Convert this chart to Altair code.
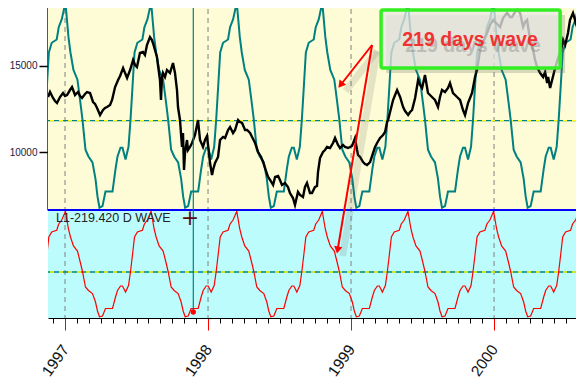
import altair as alt
import pandas as pd

# ---------------- data ----------------
stock_year = [
    1996.881, 1996.895, 1996.916, 1996.930, 1996.944, 1996.965, 1996.986, 1997.000, 1997.014, 1997.035,
    1997.049, 1997.070, 1997.091, 1997.105, 1997.119, 1997.140, 1997.154, 1997.175, 1997.196, 1997.210,
    1997.224, 1997.245, 1997.266, 1997.280, 1997.294, 1997.315, 1997.329, 1997.350, 1997.371, 1997.385,
    1997.406, 1997.420, 1997.434, 1997.455, 1997.476, 1997.490, 1997.503, 1997.524, 1997.545, 1997.559,
    1997.573, 1997.594, 1997.608, 1997.615, 1997.629, 1997.643, 1997.650, 1997.664, 1997.671, 1997.678,
    1997.685, 1997.699, 1997.713, 1997.734, 1997.755, 1997.769, 1997.783, 1997.790, 1997.804, 1997.818,
    1997.825, 1997.832, 1997.839, 1997.853, 1997.860, 1997.874, 1997.888, 1997.909, 1997.923, 1997.930,
    1997.944, 1997.965, 1997.979, 1997.993, 1998.000, 1998.014, 1998.028, 1998.035, 1998.049, 1998.070,
    1998.084, 1998.105, 1998.119, 1998.140, 1998.154, 1998.175, 1998.189, 1998.210, 1998.224, 1998.238,
    1998.259, 1998.273, 1998.294, 1998.308, 1998.329, 1998.350, 1998.371, 1998.385, 1998.399, 1998.420,
    1998.434, 1998.455, 1998.469, 1998.490, 1998.503, 1998.517, 1998.538, 1998.559, 1998.573, 1998.594,
    1998.608, 1998.629, 1998.643, 1998.664, 1998.678, 1998.692, 1998.713, 1998.727, 1998.748, 1998.762,
    1998.769, 1998.783, 1998.804, 1998.818, 1998.832, 1998.853, 1998.874, 1998.888, 1998.909, 1998.923,
    1998.944, 1998.958, 1998.979, 1998.993, 1999.007, 1999.028, 1999.042, 1999.049, 1999.063, 1999.084,
    1999.098, 1999.112, 1999.133, 1999.154, 1999.168, 1999.182, 1999.203, 1999.224, 1999.238, 1999.252,
    1999.259, 1999.273, 1999.294, 1999.308, 1999.322, 1999.343, 1999.364, 1999.378, 1999.399, 1999.413,
    1999.427, 1999.448, 1999.469, 1999.483, 1999.497, 1999.517, 1999.538, 1999.552, 1999.566, 1999.587,
    1999.608, 1999.622, 1999.636, 1999.657, 1999.678, 1999.692, 1999.713, 1999.727, 1999.741, 1999.762,
    1999.783, 1999.797, 1999.818, 1999.832, 1999.846, 1999.867, 1999.881, 1999.902, 1999.923, 1999.951,
    1999.972, 1999.993, 2000.021, 2000.042, 2000.063, 2000.091, 2000.112, 2000.126, 2000.147, 2000.161,
    2000.182, 2000.203, 2000.217, 2000.231, 2000.252, 2000.273, 2000.287, 2000.301, 2000.322, 2000.343,
    2000.357, 2000.371, 2000.378, 2000.392, 2000.406, 2000.427, 2000.448, 2000.469, 2000.483, 2000.497,
    2000.517, 2000.531, 2000.552, 2000.566, 2000.580, 2000.601, 2000.615, 2000.629,
]
stock_value = [
    13197, 13488, 13139, 12965, 12849, 13197, 13430, 13256, 13314, 13604,
    13779, 13314, 13488, 13256, 13139, 13372, 13488, 13430, 12907, 12791,
    12558, 12151, 12442, 12558, 12616, 12732, 13023, 13779, 14186, 14418,
    14884, 14593, 14302, 14767, 15349, 15058, 14942, 15756, 15814, 15639,
    16221, 16686, 16511, 16337, 15930, 15523, 15058, 14186, 13023, 14302,
    14593, 14360, 14767, 14593, 15174, 14593, 13604, 12616, 11860, 10290,
    11104, 8953, 9942, 10697, 10116, 10290, 10523, 10988, 11570, 11860,
    10697, 10290, 10697, 10930, 10407, 9360, 8662, 8953, 9360, 9709,
    10697, 10872, 10814, 11279, 11453, 11104, 11279, 11860, 11744, 11686,
    11279, 11279, 11104, 10872, 10523, 10000, 9709, 9418, 9069, 8546,
    8372, 8081, 8546, 8604, 8372, 8081, 8197, 7965, 7616, 7325,
    6918, 7674, 7500, 7383, 7965, 8197, 7616, 7616, 7965, 8023,
    8837, 9651, 10000, 10116, 10290, 10232, 10523, 10814, 10407, 10232,
    10407, 10290, 10232, 10290, 10349, 10814, 10116, 9825, 9709, 9418,
    9302, 9244, 9418, 9942, 10290, 10523, 10814, 10988, 11163, 11744,
    11860, 12325, 13023, 13314, 13604, 13197, 12616, 12384, 12151, 12325,
    12442, 13139, 14186, 13895, 13721, 14477, 13430, 13314, 13197, 13023,
    12616, 13197, 13604, 13488, 13721, 14011, 13430, 13314, 13197, 13023,
    12442, 12151, 12849, 13139, 13430, 14360, 14767, 15930, 16395, 16918,
    17384, 17674, 17442, 17267, 17790, 18081, 17849, 17849, 18139, 18256,
    18081, 17267, 17558, 17674, 16511, 15930, 15349, 14942, 14593, 14360,
    14651, 14011, 14360, 13721, 14186, 14884, 15465, 15930, 16511, 16221,
    16918, 17674, 18081, 17674, 17267, 17674, 17093, 17384,
]

# 219-day wave (same cycle drawn in both panels)
wave_year = [
    1996.859, 1996.873, 1996.887, 1996.907, 1996.942, 1996.956, 1996.977,
    1997.003, 1997.024, 1997.038, 1997.059, 1997.087, 1997.108, 1997.122, 1997.143, 1997.164, 1997.192,
    1997.213, 1997.227, 1997.241, 1997.262, 1997.283, 1997.332, 1997.353, 1997.367, 1997.388, 1997.402,
    1997.423, 1997.444, 1997.458, 1997.472, 1997.486, 1997.506, 1997.541, 1997.555, 1997.576,
    1997.602, 1997.623, 1997.637, 1997.658, 1997.686, 1997.707, 1997.721, 1997.742, 1997.763, 1997.791,
    1997.812, 1997.826, 1997.840, 1997.861, 1997.882, 1997.931, 1997.952, 1997.966, 1997.987, 1998.001,
    1998.022, 1998.043, 1998.057, 1998.071, 1998.085, 1998.105, 1998.140, 1998.154, 1998.175,
    1998.201, 1998.222, 1998.236, 1998.257, 1998.285, 1998.306, 1998.320, 1998.341, 1998.362, 1998.390,
    1998.411, 1998.425, 1998.439, 1998.460, 1998.481, 1998.530, 1998.551, 1998.565, 1998.586, 1998.600,
    1998.621, 1998.642, 1998.656, 1998.670, 1998.684, 1998.704, 1998.739, 1998.753, 1998.774,
    1998.799, 1998.820, 1998.834, 1998.855, 1998.883, 1998.904, 1998.918, 1998.939, 1998.960, 1998.988,
    1999.009, 1999.023, 1999.037, 1999.058, 1999.079, 1999.128, 1999.149, 1999.163, 1999.184, 1999.198,
    1999.219, 1999.240, 1999.254, 1999.268, 1999.282, 1999.302, 1999.337, 1999.351, 1999.372,
    1999.398, 1999.419, 1999.433, 1999.454, 1999.482, 1999.503, 1999.517, 1999.538, 1999.559, 1999.587,
    1999.608, 1999.622, 1999.636, 1999.657, 1999.678, 1999.727, 1999.748, 1999.762, 1999.783, 1999.797,
    1999.818, 1999.839, 1999.853, 1999.867, 1999.881, 1999.901, 1999.936, 1999.950, 1999.971,
    1999.997, 2000.018, 2000.032, 2000.053, 2000.081, 2000.102, 2000.116, 2000.137, 2000.158, 2000.186,
    2000.207, 2000.221, 2000.235, 2000.256, 2000.277, 2000.326, 2000.347, 2000.361, 2000.382, 2000.396,
    2000.417, 2000.438, 2000.452, 2000.466, 2000.480, 2000.500, 2000.535, 2000.549, 2000.570,
    2000.595, 2000.616, 2000.630, 2000.651,
]
wave_value = [
    0.5, 17.5, 35, 40, 41.7, 48, 52,
    60.7, 43, 35, 26, 21, 9, 0.5, -15, -18.5, -21.5,
    -30, -39, -44.8, -44, -36.5, -36.5, -25, -18.5, -14, -14,
    -20, -13.5, 0.5, 17.5, 35, 40, 41.7, 48, 52,
    60.7, 43, 35, 26, 21, 9, 0.5, -15, -18.5, -21.5,
    -30, -39, -44.8, -44, -36.5, -36.5, -25, -18.5, -14, -14,
    -20, -13.5, 0.5, 17.5, 35, 40, 41.7, 48, 52,
    60.7, 43, 35, 26, 21, 9, 0.5, -15, -18.5, -21.5,
    -30, -39, -44.8, -44, -36.5, -36.5, -25, -18.5, -14, -14,
    -20, -13.5, 0.5, 17.5, 35, 40, 41.7, 48, 52,
    60.7, 43, 35, 26, 21, 9, 0.5, -15, -18.5, -21.5,
    -30, -39, -44.8, -44, -36.5, -36.5, -25, -18.5, -14, -14,
    -20, -13.5, 0.5, 17.5, 35, 40, 41.7, 48, 52,
    60.7, 43, 35, 26, 21, 9, 0.5, -15, -18.5, -21.5,
    -30, -39, -44.8, -44, -36.5, -36.5, -25, -18.5, -14, -14,
    -20, -13.5, 0.5, 17.5, 35, 40, 41.7, 48, 52,
    60.7, 43, 35, 26, 21, 9, 0.5, -15, -18.5, -21.5,
    -30, -39, -44.8, -44, -36.5, -36.5, -25, -18.5, -14, -14,
    -20, -13.5, 0.5, 17.5, 35, 40, 41.7, 48, 52,
    60.7, 43, 35, 26,
]

grid_years = [1997, 1998, 1999, 2000]
y_tick_values = [10000, 15000]
annotation_text = "219 days wave"
wave_label = "L1-219.420 D WAVE"
cursor_year = 1997.897

# annotation geometry in data units (year, index value)
box = {"x": [1999.210], "x2": [2000.462], "y": [18256], "y2": [14884]}
arrow_start = (1999.147, 16221)
arrow_ends = [(1998.927, 13895), (1998.906, 4302)]
arrow_angles = [218, 190]
label_pos = (1999.832, 16540)

# ---------------- layout ----------------
W, H, TOP_H = 528, 318, 210
X_DOMAIN = [1996.881, 2000.573]
STOCK_DOMAIN = [6628, 18837]
WAVE_DOMAIN = [-46, 62]
TEAL = "#008080"
FONT = "Liberation Sans"

xs = alt.Scale(domain=X_DOMAIN, nice=False, zero=False)
ys_stock = alt.Scale(domain=STOCK_DOMAIN, range=[TOP_H, 0], nice=False, zero=False)
ys_wtop = alt.Scale(domain=WAVE_DOMAIN, range=[TOP_H, 0], nice=False, zero=False)
ys_wbot = alt.Scale(domain=WAVE_DOMAIN, range=[H, TOP_H], nice=False, zero=False)

month_ticks = [round(y + m / 12, 4) for y in range(1996, 2001) for m in range(12)]
month_ticks = [v for v in month_ticks if X_DOMAIN[0] <= v <= X_DOMAIN[1]]
is_year = "abs(datum.value - round(datum.value)) < 0.001"

x_axis = alt.Axis(
    values=month_ticks,
    labelExpr=f"{is_year} ? format(datum.value, 'd') : ''",
    labelAngle=-55, labelFontSize=15.5, labelFont=FONT, labelColor="#111111",
    labelOverlap=False, labelFlush=False, labelPadding=16,
    tickSize={"condition": {"test": is_year, "value": 12}, "value": 5},
    tickColor={"condition": {"test": is_year, "value": "#ff0000"}, "value": "#000000"},
    tickWidth=1, domainColor="#000000", domainWidth=1, grid=False, title=None,
)


def X(field="year"):
    return alt.X(f"{field}:Q", scale=xs, axis=x_axis)


one = pd.DataFrame({"k": [0]})
stock_df = pd.DataFrame({"year": stock_year, "value": stock_value})
wave_df = pd.DataFrame({"year": wave_year, "w": wave_value})
grid_df = pd.DataFrame({"year": grid_years})
mid_df = pd.DataFrame({"w": [0]})

bg_top = alt.Chart(one).mark_rect(color="#fdfcd6").encode(
    x=alt.value(0), x2=alt.value(W), y=alt.value(0), y2=alt.value(TOP_H))
bg_bot = alt.Chart(one).mark_rect(color="#bcfcfc").encode(
    x=alt.value(0), x2=alt.value(W), y=alt.value(TOP_H), y2=alt.value(H))

grid = alt.Chart(grid_df).mark_rule(color="#808080", strokeWidth=1, strokeDash=[5, 4]).encode(
    x=X(), y=alt.value(0), y2=alt.value(H))

mid_top_a = alt.Chart(mid_df).mark_rule(color=TEAL, strokeWidth=1.3).encode(
    y=alt.Y("w:Q", scale=ys_wtop, axis=None))
mid_top_b = alt.Chart(mid_df).mark_rule(color="#ffff00", strokeWidth=1.3, strokeDash=[4, 5]).encode(
    y=alt.Y("w:Q", scale=ys_wtop, axis=None))
mid_bot_a = alt.Chart(mid_df).mark_rule(color=TEAL, strokeWidth=1.3).encode(
    y=alt.Y("w:Q", scale=ys_wbot, axis=None))
mid_bot_b = alt.Chart(mid_df).mark_rule(color="#ffff00", strokeWidth=1.3, strokeDash=[4, 5]).encode(
    y=alt.Y("w:Q", scale=ys_wbot, axis=None))

teal_wave = alt.Chart(wave_df).mark_line(color=TEAL, strokeWidth=2, clip=True).encode(
    x=X(), y=alt.Y("w:Q", scale=ys_wtop, axis=None))

stock = alt.Chart(stock_df).mark_line(color="#000000", strokeWidth=2.4, clip=True).encode(
    x=X(),
    y=alt.Y("value:Q", scale=ys_stock, axis=alt.Axis(
        values=y_tick_values, format="d", tickSize=9, tickColor="#000000", tickWidth=1.5,
        domainColor="#0000ff", domainWidth=2.5, labelColor="#1a1a40", labelFontSize=10,
        labelFont=FONT, labelPadding=2, grid=False, title=None)))

red_wave = alt.Chart(wave_df).mark_line(color="#ff0000", strokeWidth=1.2, clip=True).encode(
    x=X(), y=alt.Y("w:Q", scale=ys_wbot, axis=None))

sep = alt.Chart(one).mark_rule(color="#0000ff", strokeWidth=1.8).encode(
    x=alt.value(0), x2=alt.value(W), y=alt.value(TOP_H))

cursor_df = pd.DataFrame({"year": [cursor_year], "w": [-40]})
cursor = alt.Chart(cursor_df).mark_rule(color=TEAL, strokeWidth=1.2).encode(
    x=X(), y=alt.value(0), y2=alt.value(313))
cursor_dot = alt.Chart(cursor_df).mark_point(filled=True, color="#ff0000", size=28, opacity=1).encode(
    x=X(), y=alt.Y("w:Q", scale=ys_wbot, axis=None))

lbl_df = pd.DataFrame({"year": [1996.937], "w": [54], "t": [wave_label]})
wave_lbl = alt.Chart(lbl_df).mark_text(align="left", baseline="middle", fontSize=12.5, font=FONT,
                                       color="#222222").encode(
    x=X(), y=alt.Y("w:Q", scale=ys_wbot, axis=None), text="t:N")
cross_df = pd.DataFrame({"year": [1997.874], "w": [54], "t": ["+"]})
cross = alt.Chart(cross_df).mark_text(align="center", baseline="middle", fontSize=22,
                                      font="DejaVu Sans", color="#5a0a0a").encode(
    x=X(), y=alt.Y("w:Q", scale=ys_wbot, axis=None), text="t:N")

arrow_df = pd.DataFrame({
    "year": [arrow_start[0]] * 2, "value": [arrow_start[1]] * 2,
    "year2": [e[0] for e in arrow_ends], "value2": [e[1] for e in arrow_ends],
})
arrow_shadow = alt.Chart(arrow_df).mark_rule(
    color="#555555", opacity=0.15, strokeWidth=7, xOffset=5, yOffset=6, x2Offset=5, y2Offset=6).encode(
    x=X(), x2="year2:Q", y=alt.Y("value:Q", scale=ys_stock, axis=None), y2="value2:Q")
arrow_line = alt.Chart(arrow_df).mark_rule(color="#ff0000", strokeWidth=2).encode(
    x=X(), x2="year2:Q", y=alt.Y("value:Q", scale=ys_stock, axis=None), y2="value2:Q")
head_df = pd.DataFrame({"year": [e[0] for e in arrow_ends], "value": [e[1] for e in arrow_ends],
                        "ang": arrow_angles})
arrow_head = alt.Chart(head_df).mark_point(shape="triangle-up", filled=True, color="#ff0000",
                                           size=70, opacity=1).encode(
    x=X(), y=alt.Y("value:Q", scale=ys_stock, axis=None), angle=alt.Angle("ang:Q", scale=None))

box_df = pd.DataFrame({"year": box["x"], "year2": box["x2"], "value": box["y"], "value2": box["y2"]})
box_shadow = alt.Chart(box_df).mark_rect(
    color="#666666", opacity=0.25, xOffset=5, x2Offset=5, yOffset=5, y2Offset=5).encode(
    x=X(), x2="year2:Q", y=alt.Y("value:Q", scale=ys_stock, axis=None), y2="value2:Q")
box_rect = alt.Chart(box_df).mark_rect(
    fill="#e8e8e6", fillOpacity=0.74, stroke="#33ee22", strokeWidth=3.5, cornerRadius=2).encode(
    x=X(), x2="year2:Q", y=alt.Y("value:Q", scale=ys_stock, axis=None), y2="value2:Q")

txt_df = pd.DataFrame({"year": [label_pos[0]], "value": [label_pos[1]], "t": [annotation_text]})
txt_shadow = alt.Chart(txt_df).mark_text(
    fontSize=19.5, fontWeight="bold", font=FONT, color="#777777", opacity=0.35,
    dx=3, dy=6, baseline="middle").encode(
    x=X(), y=alt.Y("value:Q", scale=ys_stock, axis=None), text="t:N")
txt = alt.Chart(txt_df).mark_text(
    fontSize=19.5, fontWeight="bold", font=FONT, color="#f03232", baseline="middle").encode(
    x=X(), y=alt.Y("value:Q", scale=ys_stock, axis=None), text="t:N")

chart = alt.layer(
    bg_top, bg_bot, grid, mid_top_a, mid_top_b, mid_bot_a, mid_bot_b,
    teal_wave, stock, red_wave, sep, cursor, cursor_dot, wave_lbl, cross,
    arrow_shadow, arrow_line, arrow_head, box_shadow, box_rect, txt_shadow, txt,
).resolve_scale(y="independent").properties(
    width=W, height=H,
    padding={"left": 40, "top": -8, "right": 0, "bottom": 62},
    autosize=alt.AutoSizeParams(type="none"),
    background="#ffffff",
).configure_view(stroke=None)

chart.save("out.html", embed_options={"renderer": "svg", "actions": False})
